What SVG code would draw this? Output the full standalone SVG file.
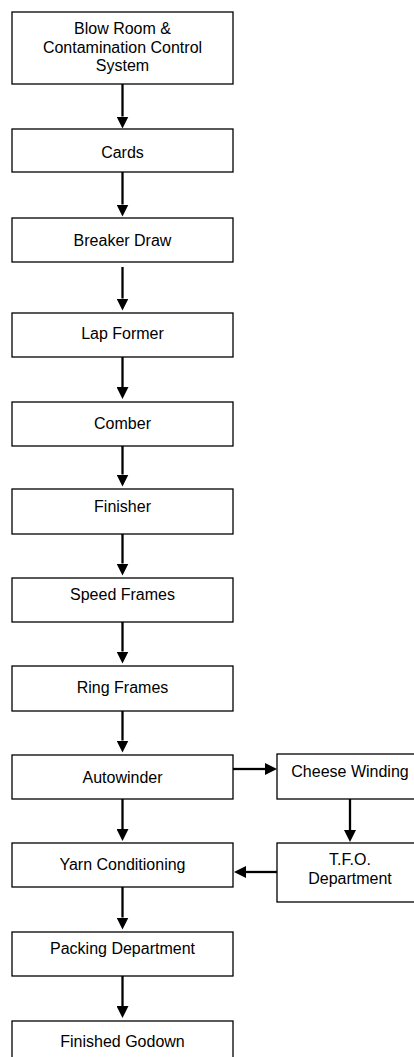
<svg xmlns="http://www.w3.org/2000/svg" width="414" height="1057" viewBox="0 0 414 1057">
<style>
.box{fill:#fff;stroke:#000;stroke-width:1.3}
.t{font-family:"Liberation Sans",Arial,sans-serif;font-size:16px;fill:#000;text-anchor:middle}
.c{stroke:#000;stroke-width:2.3;fill:none;marker-end:url(#ah)}
</style>
<defs>
<marker id="ah" markerUnits="userSpaceOnUse" markerWidth="12" markerHeight="12" viewBox="0 0 12 12" refX="0" refY="6" orient="auto">
<path d="M0,0 L12,6 L0,12 z" fill="#000"/>
</marker>
</defs>
<rect width="414" height="1057" fill="#fff"/>
<g id="connectors">
<line class="c" x1="122.5" y1="84" x2="122.5" y2="116.5"/>
<line class="c" x1="122.5" y1="172" x2="122.5" y2="204.5"/>
<line class="c" x1="122.5" y1="267" x2="122.5" y2="298.5"/>
<line class="c" x1="122.5" y1="357" x2="122.5" y2="387"/>
<line class="c" x1="122.5" y1="446" x2="122.5" y2="474.5"/>
<line class="c" x1="122.5" y1="534" x2="122.5" y2="563.5"/>
<line class="c" x1="122.5" y1="622" x2="122.5" y2="651.5"/>
<line class="c" x1="122.5" y1="711" x2="122.5" y2="740.5"/>
<line class="c" x1="122.5" y1="799" x2="122.5" y2="829"/>
<line class="c" x1="122.5" y1="887" x2="122.5" y2="917.5"/>
<line class="c" x1="122.5" y1="976" x2="122.5" y2="1006"/>
<line class="c" x1="233" y1="769" x2="265" y2="769"/>
<line class="c" x1="350" y1="799" x2="350" y2="830"/>
<line class="c" x1="277" y1="872" x2="246" y2="872"/>
</g>
<g id="n1"><rect class="box" x="12" y="12" width="221" height="72"/>
<text class="t" x="122.5" y="34">Blow Room &amp;</text>
<text class="t" x="122.5" y="52.5">Contamination Control</text>
<text class="t" x="122.5" y="71">System</text></g>
<g id="n2"><rect class="box" x="12" y="129" width="221" height="43"/><text class="t" x="122.5" y="157.5">Cards</text></g>
<g id="n3"><rect class="box" x="12" y="218" width="221" height="44"/><text class="t" x="122.5" y="245.5">Breaker Draw</text></g>
<g id="n4"><rect class="box" x="12" y="313" width="221" height="44"/><text class="t" x="122.5" y="339">Lap Former</text></g>
<g id="n5"><rect class="box" x="12" y="402" width="221" height="44"/><text class="t" x="122.5" y="428.5">Comber</text></g>
<g id="n6"><rect class="box" x="12" y="489" width="221" height="45"/><text class="t" x="122.5" y="511.5">Finisher</text></g>
<g id="n7"><rect class="box" x="12" y="578" width="221" height="44"/><text class="t" x="122.5" y="600">Speed Frames</text></g>
<g id="n8"><rect class="box" x="12" y="666" width="221" height="45"/><text class="t" x="122.5" y="692.5">Ring Frames</text></g>
<g id="n9"><rect class="box" x="12" y="755" width="221" height="44"/><text class="t" x="122.5" y="782.5">Autowinder</text></g>
<g id="n10"><rect class="box" x="12" y="843" width="221" height="44"/><text class="t" x="122.5" y="870">Yarn Conditioning</text></g>
<g id="n11"><rect class="box" x="12" y="932" width="221" height="44"/><text class="t" x="122.5" y="953.5">Packing Department</text></g>
<g id="n12"><rect class="box" x="12" y="1021" width="221" height="50"/><text class="t" x="122.5" y="1046.5">Finished Godown</text></g>
<g id="n13"><rect class="box" x="277" y="754" width="146" height="45"/><text class="t" x="350" y="776.5">Cheese Winding</text></g>
<g id="n14"><rect class="box" x="277" y="843" width="146" height="59"/>
<text class="t" x="350" y="865">T.F.O.</text>
<text class="t" x="350" y="883.5">Department</text></g>
</svg>
